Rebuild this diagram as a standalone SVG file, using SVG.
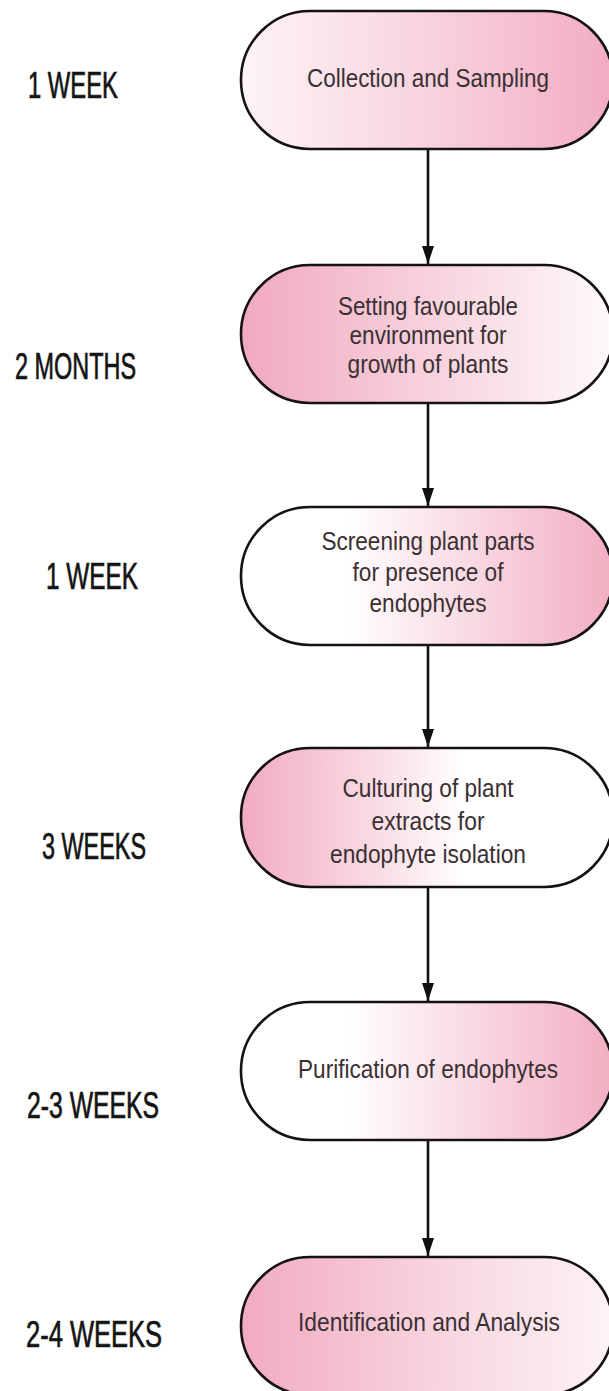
<svg xmlns="http://www.w3.org/2000/svg" width="609" height="1391" viewBox="0 0 609 1391">
<style>
.node{stroke:#161214;stroke-width:2.6}
.nt{font-family:"Liberation Sans",Arial,sans-serif;font-size:26px;fill:#3a3034;text-anchor:middle}
.lbl{font-family:"Liberation Sans",Arial,sans-serif;font-size:36px;fill:#141414;stroke:#141414;stroke-width:0.7}
.conn{stroke:#111;stroke-width:2.6;fill:none}
</style>
<defs>
<linearGradient id="g1" x1="0" y1="0" x2="1" y2="0">
<stop offset="0" stop-color="#fdf4f7"/><stop offset="0.5" stop-color="#f8d3de"/><stop offset="1" stop-color="#f2acc1"/>
</linearGradient>
<linearGradient id="g2" x1="0" y1="0" x2="1" y2="0">
<stop offset="0" stop-color="#f0a9bf"/><stop offset="0.55" stop-color="#f8d5df"/><stop offset="1" stop-color="#fefafb"/>
</linearGradient>
<linearGradient id="g3" x1="0" y1="0" x2="1" y2="0">
<stop offset="0" stop-color="#ffffff"/><stop offset="0.28" stop-color="#ffffff"/><stop offset="0.6" stop-color="#f9dbe4"/><stop offset="1" stop-color="#f2aec2"/>
</linearGradient>
<linearGradient id="g4" x1="0" y1="0" x2="1" y2="0">
<stop offset="0" stop-color="#f1abc0"/><stop offset="0.35" stop-color="#f9dae3"/><stop offset="0.6" stop-color="#ffffff"/><stop offset="1" stop-color="#ffffff"/>
</linearGradient>
<linearGradient id="g6" x1="0" y1="0" x2="1" y2="0">
<stop offset="0" stop-color="#f1abc0"/><stop offset="0.55" stop-color="#f8d6e0"/><stop offset="1" stop-color="#fdf3f6"/>
</linearGradient>
<marker id="ah" markerUnits="userSpaceOnUse" markerWidth="18" markerHeight="12" refX="18" refY="6" orient="auto">
<path d="M0,0 L18,6 L0,12 z" fill="#111"/>
</marker>
</defs>
<rect width="609" height="1391" fill="#ffffff"/>
<g id="connectors">
<line class="conn" x1="428" y1="149" x2="428" y2="264" marker-end="url(#ah)"/>
<line class="conn" x1="428" y1="403" x2="428" y2="506" marker-end="url(#ah)"/>
<line class="conn" x1="428" y1="645" x2="428" y2="747" marker-end="url(#ah)"/>
<line class="conn" x1="428" y1="887" x2="428" y2="1001" marker-end="url(#ah)"/>
<line class="conn" x1="428" y1="1140" x2="428" y2="1256" marker-end="url(#ah)"/>
</g>
<g id="node1">
<rect class="node" x="241" y="11" width="372" height="138" rx="69" fill="url(#g1)"/>
<text class="nt" x="428" y="87" textLength="242" lengthAdjust="spacingAndGlyphs">Collection and Sampling</text>
</g>
<g id="node2">
<rect class="node" x="241" y="265" width="372" height="138" rx="69" fill="url(#g2)"/>
<text class="nt" x="428" y="315" textLength="180" lengthAdjust="spacingAndGlyphs">Setting favourable</text>
<text class="nt" x="428" y="344" textLength="157" lengthAdjust="spacingAndGlyphs">environment for</text>
<text class="nt" x="428" y="373" textLength="161" lengthAdjust="spacingAndGlyphs">growth of plants</text>
</g>
<g id="node3">
<rect class="node" x="241" y="507" width="372" height="138" rx="69" fill="url(#g3)"/>
<text class="nt" x="428" y="550" textLength="213" lengthAdjust="spacingAndGlyphs">Screening plant parts</text>
<text class="nt" x="428" y="581" textLength="151" lengthAdjust="spacingAndGlyphs">for presence of</text>
<text class="nt" x="428" y="612" textLength="117" lengthAdjust="spacingAndGlyphs">endophytes</text>
</g>
<g id="node4">
<rect class="node" x="241" y="748" width="372" height="139" rx="69" fill="url(#g4)"/>
<text class="nt" x="428" y="797" textLength="171" lengthAdjust="spacingAndGlyphs">Culturing of plant</text>
<text class="nt" x="428" y="830" textLength="113" lengthAdjust="spacingAndGlyphs">extracts for</text>
<text class="nt" x="428" y="863" textLength="196" lengthAdjust="spacingAndGlyphs">endophyte isolation</text>
</g>
<g id="node5">
<rect class="node" x="241" y="1002" width="372" height="138" rx="69" fill="url(#g3)"/>
<text class="nt" x="428" y="1078" textLength="260" lengthAdjust="spacingAndGlyphs">Purification of endophytes</text>
</g>
<g id="node6">
<rect class="node" x="241" y="1257" width="372" height="138" rx="69" fill="url(#g6)"/>
<text class="nt" x="429" y="1331" textLength="262" lengthAdjust="spacingAndGlyphs">Identification and Analysis</text>
</g>
<g id="labels">
<text class="lbl" x="28" y="98" textLength="90" lengthAdjust="spacingAndGlyphs">1 WEEK</text>
<text class="lbl" x="15" y="379" textLength="121" lengthAdjust="spacingAndGlyphs">2 MONTHS</text>
<text class="lbl" x="46" y="589" textLength="92" lengthAdjust="spacingAndGlyphs">1 WEEK</text>
<text class="lbl" x="42" y="859" textLength="104" lengthAdjust="spacingAndGlyphs">3 WEEKS</text>
<text class="lbl" x="27" y="1118" textLength="132" lengthAdjust="spacingAndGlyphs">2-3 WEEKS</text>
<text class="lbl" x="26" y="1347" textLength="136" lengthAdjust="spacingAndGlyphs">2-4 WEEKS</text>
</g>
</svg>
